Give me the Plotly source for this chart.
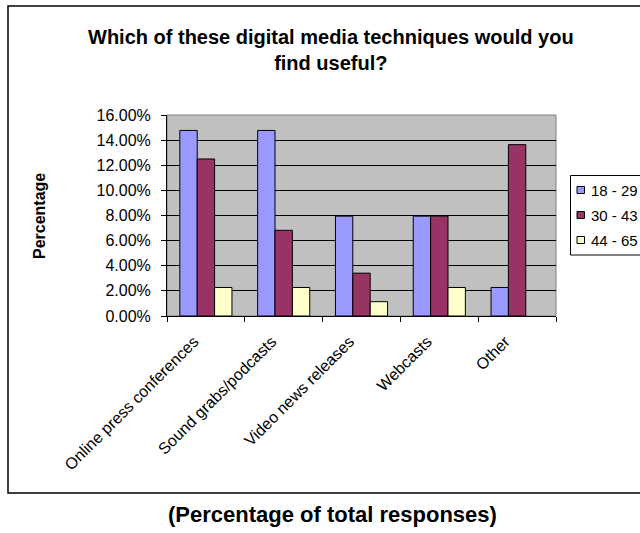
import plotly.graph_objects as go

categories = ["Online press conferences", "Sound grabs/podcasts", "Video news releases", "Webcasts", "Other"]
series_names = ["18 - 29", "30 - 43", "44 - 65"]
age_18_29 = [0.1477, 0.1477, 0.0795, 0.0795, 0.0227]
age_30_43 = [0.1250, 0.0682, 0.0341, 0.0795, 0.1364]
age_44_65 = [0.0227, 0.0227, 0.0114, 0.0227, None]
colors = ["#9999FF", "#993366", "#FFFFCC"]

W, H = 640, 533
L, R, T, B = 167, 556, 115, 316  # plot area in px

def px_x(x):
    return (x - L) / (R - L)

def px_y(y):
    return (B - y) / (B - T)

fig = go.Figure()
for name, vals, col in zip(series_names, [age_18_29, age_30_43, age_44_65], colors):
    fig.add_trace(go.Bar(x=categories, y=vals, name=name,
                         marker=dict(color=col, line=dict(color="black", width=1))))

font_main = "Liberation Sans, Arial, sans-serif"

fig.update_layout(
    width=W, height=H,
    margin=dict(l=L, r=W - R, t=T, b=H - B, autoexpand=False),
    paper_bgcolor="white", plot_bgcolor="#C0C0C0",
    barmode="group", bargap=0.33, bargroupgap=0,
    showlegend=False,
    font=dict(family=font_main, color="black"),
    xaxis=dict(tickangle=-45, tickfont=dict(size=16), showline=True, linecolor="black",
               linewidth=1, ticks="outside", tickson="boundaries", ticklen=5,
               tickcolor="black", showgrid=False, ticklabelstandoff=9, ticklabelshift=-12),
    yaxis=dict(range=[0, 0.16], dtick=0.02, tickformat=".2%", tickfont=dict(size=16),
               showline=True, linecolor="black", linewidth=1, ticks="outside", ticklen=5,
               tickcolor="black", gridcolor="black", gridwidth=1, zeroline=False,
               ticklabelstandoff=7),
)

shapes = [
    dict(type="rect", xref="paper", yref="paper", x0=0, x1=1, y0=0, y1=1,
         line=dict(color="#808080", width=1), layer="between"),
    dict(type="rect", xref="paper", yref="paper", x0=px_x(8), x1=px_x(660), y0=px_y(493), y1=px_y(6),
         line=dict(color="black", width=1.5)),
    dict(type="rect", xref="paper", yref="paper", x0=px_x(570.5), x1=px_x(660), y0=px_y(255), y1=px_y(175.5),
         line=dict(color="black", width=1), fillcolor="white"),
]
annotations = [
    dict(text="<b>Which of these digital media techniques would you<br>find useful?</b>",
         xref="paper", yref="paper", x=px_x(331), y=px_y(24), xanchor="center", yanchor="top",
         showarrow=False, font=dict(size=20, family=font_main)),
    dict(text="<b>Percentage</b>", xref="paper", yref="paper", x=px_x(39), y=px_y(216), textangle=-90,
         showarrow=False, font=dict(size=16, family=font_main), xanchor="center", yanchor="middle"),
    dict(text="<b>(Percentage of total responses)</b>", xref="paper", yref="paper", x=px_x(332),
         y=px_y(514), showarrow=False, xanchor="center", yanchor="middle",
         font=dict(size=22, family=font_main)),
]
for i, (name, col) in enumerate(zip(series_names, colors)):
    yc = 190 + 25 * i
    shapes.append(dict(type="rect", xref="paper", yref="paper", x0=px_x(577), x1=px_x(584.5),
                       y0=px_y(yc + 3.5), y1=px_y(yc - 3.5), fillcolor=col,
                       line=dict(color="black", width=1)))
    annotations.append(dict(text=name, xref="paper", yref="paper", x=px_x(589), y=px_y(yc),
                            xanchor="left", yanchor="middle", showarrow=False,
                            font=dict(size=15, family=font_main)))

fig.update_layout(shapes=shapes, annotations=annotations)
fig.write_html("out.html", config={"displayModeBar": False},
               post_script="document.body.style.margin='0';document.body.style.overflow='hidden';")
